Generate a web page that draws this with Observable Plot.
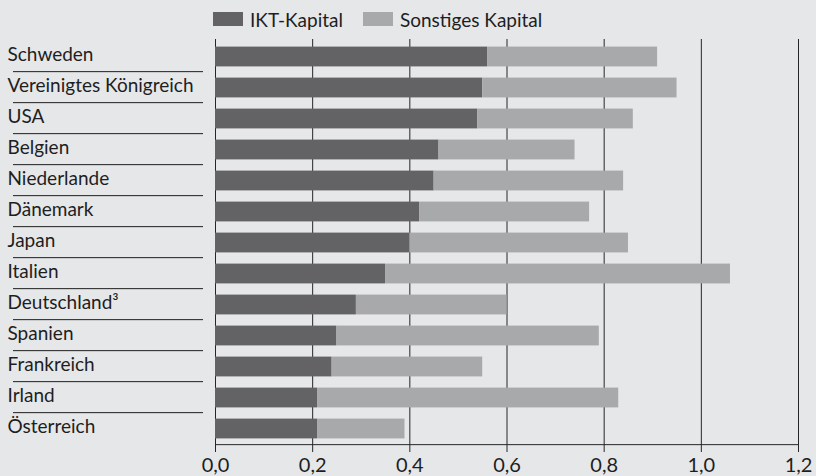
<!DOCTYPE html>
<html>
<head>
<meta charset="utf-8">
<script src="https://cdn.jsdelivr.net/npm/d3@7"></script>
<script src="https://cdn.jsdelivr.net/npm/@observablehq/plot@0.6"></script>
<style>
  html, body { margin: 0; padding: 0; background: #e6e7e9; }
  body { width: 816px; height: 476px; overflow: hidden; font-family: Lato, sans-serif; color: #1e1e1e; }
  #legend { height: 36px; box-sizing: border-box; padding-top: 2px; padding-left: 213px; display: flex; align-items: center; font-size: 19px; }
  .item { display: flex; align-items: center; margin-right: 20px; }
  .sw { width: 30px; height: 14px; margin-right: 7px; }
  #chart svg { display: block; }
</style>
</head>
<body>
<div id="legend"></div>
<div id="chart"></div>
<script>
const countries = ["Schweden", "Vereinigtes Königreich", "USA", "Belgien", "Niederlande", "Dänemark", "Japan", "Italien", "Deutschland³", "Spanien", "Frankreich", "Irland", "Österreich"];
const series = ["IKT-Kapital", "Sonstiges Kapital"];
const iktKapital = [0.56, 0.55, 0.54, 0.46, 0.45, 0.42, 0.40, 0.35, 0.29, 0.25, 0.24, 0.21, 0.21];
const sonstigesKapital = [0.35, 0.40, 0.32, 0.28, 0.39, 0.35, 0.45, 0.71, 0.31, 0.54, 0.31, 0.62, 0.18];
const xTicks = [0, 0.2, 0.4, 0.6, 0.8, 1.0, 1.2];

const colors = ["#636365", "#a8a9ab"];
const values = [iktKapital, sonstigesKapital];
const data = series.flatMap((s, si) => countries.map((c, i) => ({country: c, type: s, value: values[si][i]})));

// legend
const legend = document.getElementById("legend");
series.forEach((s, i) => {
  const item = document.createElement("div");
  item.className = "item";
  const sw = document.createElement("div");
  sw.className = "sw";
  sw.style.background = colors[i];
  const t = document.createElement("span");
  t.textContent = s;
  item.append(sw, t);
  legend.append(item);
});

const H = 440, MT = 3, MB = 30;
const step = (H - MT - MB) / countries.length;
const ink = "#262626";

const chart = Plot.plot({
  width: 816,
  height: H,
  marginLeft: 215,
  marginRight: 18,
  marginTop: MT,
  marginBottom: MB,
  style: {background: "transparent", fontFamily: "Lato, sans-serif", fontSize: "19px", color: "#1e1e1e"},
  x: {domain: [0, 1.2], axis: null, label: null},
  y: {domain: countries, padding: 0, axis: null, label: null},
  color: {domain: series, range: colors},
  marks: [
    Plot.gridX(xTicks, {stroke: ink, strokeOpacity: 1, strokeWidth: 1}),
    Plot.barX(data, {x: "value", y: "country", fill: "type", insetTop: 5.6, insetBottom: 5.6}),
    Plot.ruleY([countries[countries.length - 1]], {x1: 0, x2: 1.2, dy: step / 2, stroke: ink, strokeWidth: 1}),
    Plot.axisX(xTicks, {anchor: "bottom", label: null, tickSize: 6, tickPadding: 5, tickFormat: d => d.toFixed(1).replace(".", ","), fontSize: 20, stroke: ink}),
    Plot.axisY({anchor: "left", label: null, tickSize: 0, tickPadding: 0, textAnchor: "start", dx: -208, dy: -2, fontSize: 19}),
    Plot.axisY(countries.slice(0, -1), {anchor: "left", label: null, tickSize: 190, dx: -12, dy: step / 2 - 1, tickFormat: () => "", stroke: "#1e1e1e", strokeWidth: 1})
  ]
});
document.getElementById("chart").append(chart);
</script>
</body>
</html>
